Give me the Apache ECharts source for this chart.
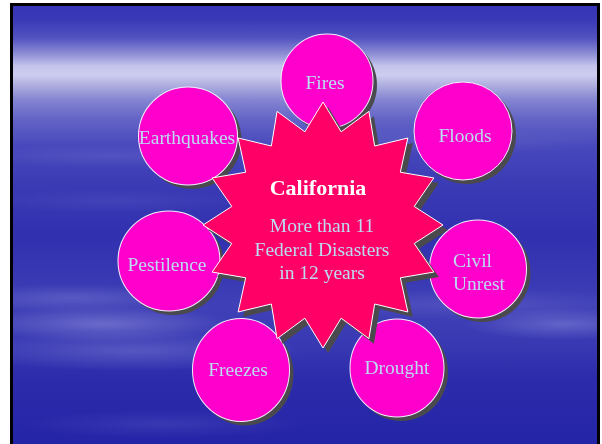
<!DOCTYPE html>
<html>
<head>
<meta charset="utf-8">
<script src="https://cdn.jsdelivr.net/npm/echarts@6/dist/echarts.min.js"></script>
<style>
  html, body { margin: 0; padding: 0; background: #fff; overflow: hidden; }
  #frame {
    position: absolute; left: 10px; top: 3px; width: 584px; height: 470px;
    border: 3px solid #000;
    background:
      radial-gradient(ellipse 130px 18px at 90px 318px, rgba(180,180,235,.38), rgba(180,180,235,0)),
      radial-gradient(ellipse 170px 20px at 120px 345px, rgba(160,160,230,.3), rgba(160,160,230,0)),
      radial-gradient(ellipse 120px 14px at 60px 292px, rgba(160,160,230,.28), rgba(160,160,230,0)),
      radial-gradient(ellipse 100px 16px at 550px 318px, rgba(170,170,235,.35), rgba(170,170,235,0)),
      radial-gradient(ellipse 170px 16px at 460px 298px, rgba(140,140,220,.22), rgba(140,140,220,0)),
      radial-gradient(ellipse 140px 14px at 150px 418px, rgba(110,110,210,.25), rgba(110,110,210,0)),
      radial-gradient(ellipse 180px 14px at 420px 135px, rgba(130,130,215,.22), rgba(130,130,215,0)),
      radial-gradient(ellipse 150px 12px at 100px 150px, rgba(130,130,215,.22), rgba(130,130,215,0)),
      radial-gradient(ellipse 130px 12px at 100px 195px, rgba(110,110,205,.2), rgba(110,110,205,0)),
      linear-gradient(to bottom, #3535b6 0px, #3a3ab8 14px, #5252c0 32px, #8e8ed6 48px,
        #c4c4ec 60px, #cdcdef 69px, #acacdf 80px, #8484d2 94px, #6262c6 114px,
        #4848bc 140px, #3a3ab5 180px, #3131b0 230px, #3838b3 270px, #4040b7 300px,
        #3838b3 340px, #2b2bab 375px, #2424a7 440px);
  }
  #chart { position: absolute; left: 0; top: 0; width: 602px; height: 444px; }
</style>
</head>
<body>
<div id="frame"></div>
<div id="chart"></div>
<script>
// bubbles around the star
var labels = ['Fires', 'Earthquakes', 'Floods', 'Pestilence', 'Civil\nUnrest', 'Freezes', 'Drought'];
// layout: centre and size of each bubble (diagram units = px)
var bubbleX = [327, 188, 463, 169, 478, 241, 397];
var bubbleY = [81, 136, 131, 261, 269, 370, 368];
var bubbleW = [92, 99, 98, 102, 97, 97, 94];
var bubbleH = [94, 98, 98, 100, 98, 103, 98];
var labelDX = [-2, -1, 2, -2, -25, -3, 0];
var labelDY = [3, 3, 6, 5, 4, 1, 1];

// star in the middle
var starTitle = 'California';
var starLines = ['More than 11', 'Federal Disasters', 'in 12 years'];
var starPoints = 16;

var myChart = echarts.init(document.getElementById('chart'));

var bubbleData = labels.map(function (name, i) {
  var item = {
    name: name,
    value: [bubbleX[i], bubbleY[i]],
    symbolSize: [bubbleW[i], bubbleH[i]],
    label: { offset: [labelDX[i], labelDY[i]] }
  };
  if (name.indexOf('\n') >= 0) {
    item.label.align = 'left';
  }
  return item;
});

var option = {
  animation: false,
  grid: { left: 0, right: 0, top: 0, bottom: 0 },
  xAxis: { type: 'value', min: 0, max: 602, show: false },
  yAxis: { type: 'value', min: 0, max: 444, inverse: true, show: false },
  series: [
    {
      // drop shadows of the bubbles
      type: 'scatter',
      z: 1,
      symbol: 'circle',
      symbolOffset: [4, 4],
      silent: true,
      itemStyle: { color: '#4a4a4e', opacity: 1 },
      data: bubbleData.map(function (d) {
        return { value: d.value, symbolSize: d.symbolSize };
      })
    },
    {
      type: 'scatter',
      z: 2,
      symbol: 'circle',
      itemStyle: { color: '#ff00cc', borderColor: '#f4f0ff', borderWidth: 1, opacity: 1 },
      label: {
        show: true,
        position: 'inside',
        formatter: '{b}',
        color: '#bcdcf4',
        fontFamily: '"Liberation Serif", "Times New Roman", serif',
        fontSize: 19.5,
        lineHeight: 23
      },
      data: bubbleData
    },
    {
      type: 'custom',
      z: 3,
      data: [[323, 225]],
      renderItem: function (params, api) {
        var c = api.coord([api.value(0), api.value(1)]);
        var pts = [];
        for (var i = 0; i < starPoints * 2; i++) {
          var a = Math.PI * i / starPoints;
          var outer = i % 2 === 0;
          var rx = outer ? 120 : 93;
          var ry = outer ? 123 : 95;
          pts.push([c[0] + rx * Math.sin(a), c[1] - ry * Math.cos(a)]);
        }
        var font = '"Liberation Serif", "Times New Roman", serif';
        var children = [
          { type: 'polygon', x: 5, y: 5, shape: { points: pts }, style: { fill: '#4a4a4e' } },
          { type: 'polygon', shape: { points: pts }, style: { fill: '#ff0066', stroke: '#ffffff', lineWidth: 1 } },
          {
            type: 'text',
            style: {
              text: starTitle, x: c[0] - 5, y: c[1] - 36,
              fill: '#ffffff', font: 'bold 22px ' + font,
              align: 'center', verticalAlign: 'middle'
            }
          }
        ];
        starLines.forEach(function (t, k) {
          children.push({
            type: 'text',
            style: {
              text: t, x: c[0] - 1, y: c[1] + 2 + k * 23.5,
              fill: '#bcdcf4', font: '19.5px ' + font,
              align: 'center', verticalAlign: 'middle'
            }
          });
        });
        return { type: 'group', children: children };
      }
    }
  ]
};

myChart.setOption(option);
</script>
</body>
</html>
